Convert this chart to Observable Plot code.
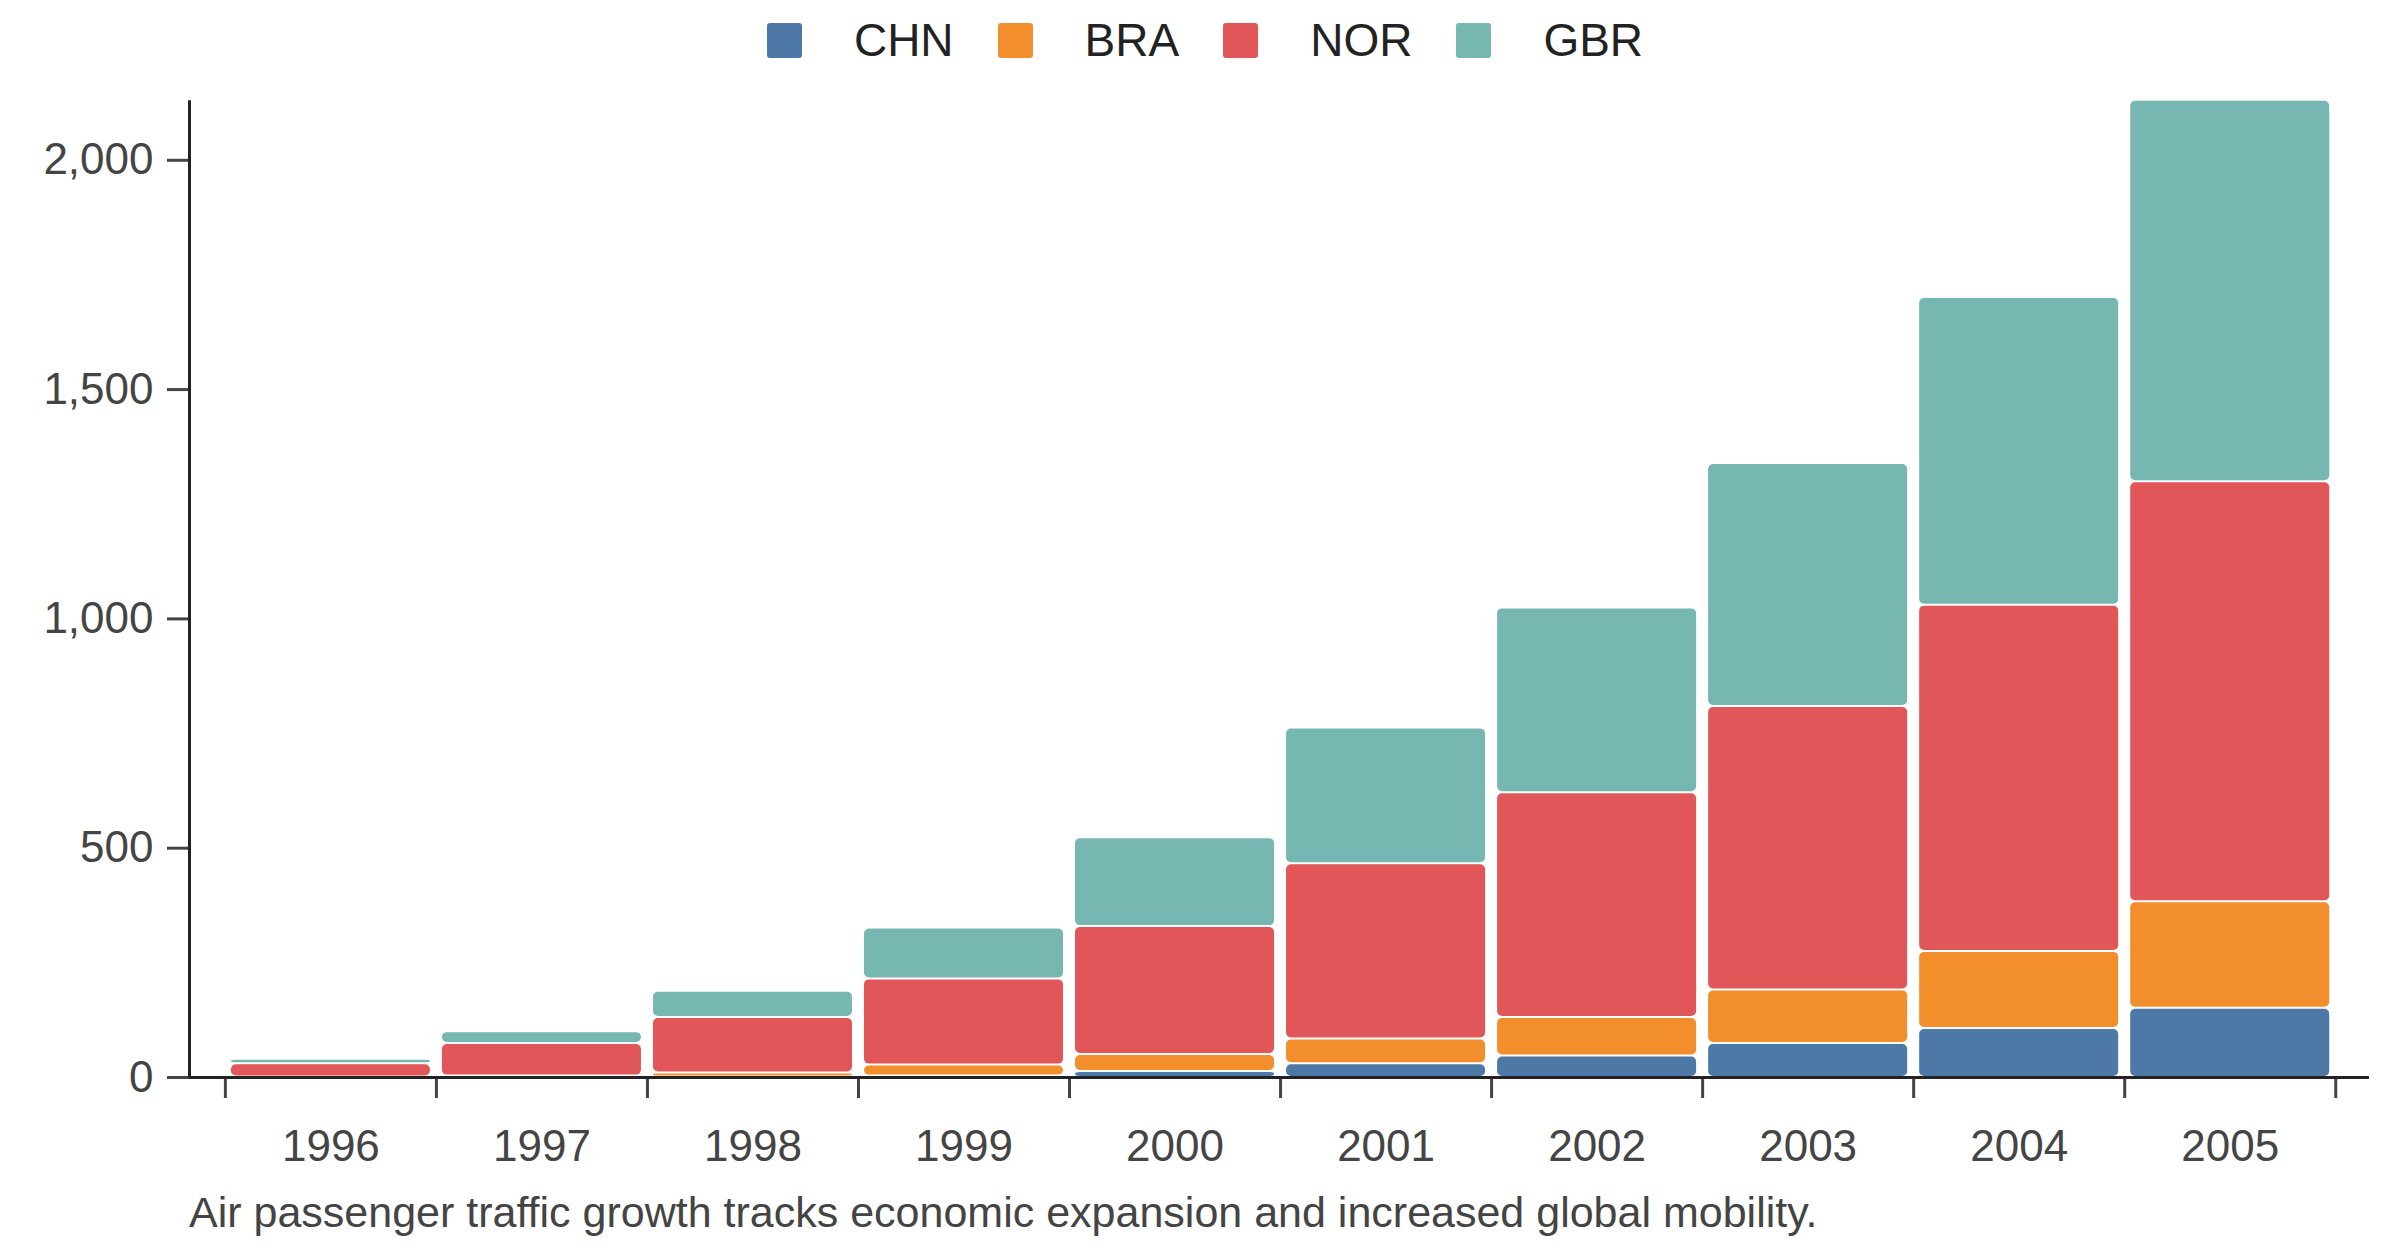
<!DOCTYPE html>
<html><head><meta charset="utf-8">
<script src="https://cdn.jsdelivr.net/npm/d3@7"></script>
<script src="https://cdn.jsdelivr.net/npm/@observablehq/plot@0.6"></script>
<style>
body{margin:0;background:#fff;font-family:"Liberation Sans",Arial,sans-serif;}
#legend{height:80px;display:flex;justify-content:center;align-items:center;font-size:46px;color:#222;padding-left:10px}
.item{display:flex;align-items:center;margin:0 22px}
.sw{width:35px;height:35px;border-radius:3px;margin-right:52px}
#cap{font-size:43px;color:#444;margin-left:189px;margin-top:8px}
svg text{font-size:44px}
</style></head><body>
<div id="legend"></div>
<div id="chart"></div>
<div id="cap">Air passenger traffic growth tracks economic expansion and increased global mobility.</div>
<script>
const years=[1996,1997,1998,1999,2000,2001,2002,2003,2004,2005];
const series=["CHN","BRA","NOR","GBR"];
const colors=["#4e79a7","#f28e2b","#e15759","#76b7b2"];
const CHN=[0,0,1,3,13,30,47,74,107,151];
const BRA=[1,3,9,24,37,54,84,117,168,232];
const NOR=[29,71,121,188,279,382,490,618,755,916];
const GBR=[10,26,57,111,194,296,403,530,671,832];
const vals={CHN,BRA,NOR,GBR};
const data=[];
series.forEach(s=>years.forEach((y,i)=>data.push({year:y,series:s,value:vals[s][i]})));
const edges=years.map(y=>y-0.5).concat([years[years.length-1]+0.5]);

const leg=document.getElementById("legend");
series.forEach((s,i)=>{leg.insertAdjacentHTML("beforeend",`<div class="item"><div class="sw" style="background:${colors[i]}"></div><span>${s}</span></div>`)});

const xDomain=[1995.33,2005.66];
const chart=Plot.plot({
  width:2400,height:1100,marginLeft:189,marginRight:31,marginTop:11,marginBottom:103,
  style:{fontSize:"44px",fontFamily:"Liberation Sans, Arial, sans-serif",color:"#444"},
  x:{type:"linear",domain:xDomain},
  y:{domain:[0,2150],nice:false},
  color:{domain:series,range:colors},
  marks:[
    Plot.rectY(data,Plot.stackY({x1:d=>d.year-0.5,x2:d=>d.year+0.5,y:"value",fill:"series",order:series,insetLeft:6,insetRight:6,insetTop:1,insetBottom:1,rx:5})),
    Plot.axisY({ticks:[0,500,1000,1500,2000],tickFormat:d3.format(","),tickSize:22,tickPadding:14,strokeWidth:3,label:null}),
    Plot.axisX({ticks:edges,tickFormat:()=>"",tickSize:21,strokeWidth:3,label:null}),
    Plot.axisX({ticks:years,tickFormat:d=>String(d),tickSize:0,tickPadding:52,label:null}),
    Plot.ruleY([0],{stroke:"#222",strokeWidth:3}),
    Plot.ruleX([xDomain[0]],{y1:0,y2:2130,stroke:"#222",strokeWidth:3})
  ]
});
document.getElementById("chart").appendChild(chart);
</script></body></html>
